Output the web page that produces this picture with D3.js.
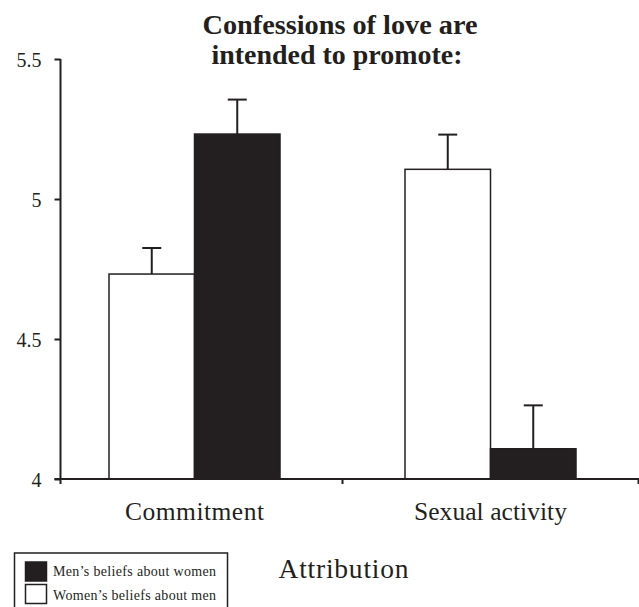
<!DOCTYPE html>
<html><head><meta charset="utf-8">
<script src="https://cdn.jsdelivr.net/npm/d3@7"></script>
<style>
body{margin:0;background:#fff;}
</style></head>
<body><svg id="chart" width="639" height="607"></svg>
<script>
const categories = ["Commitment", "Sexual activity"];
const seriesNames = ["Women\u2019s beliefs about men", "Men\u2019s beliefs about women"];
const womenValues = [4.732, 5.106];
const menValues = [5.232, 4.108];
const womenErrTop = [4.825, 5.230];
const menErrTop = [5.355, 4.263];
const yTicks = [4, 4.5, 5, 5.5];
const yTickLabels = ["4", "4.5", "5", "5.5"];
const titleLines = ["Confessions of love are", "intended to promote:"];
const xTitle = "Attribution";
const legendOrder = ["Men\u2019s beliefs about women", "Women\u2019s beliefs about men"];

const ink = "#231f20";
const FONT = "'Liberation Serif', Tinos, 'Times New Roman', 'DejaVu Serif', serif";
const svg = d3.select("#chart").attr("font-family", FONT);
const x0 = d3.scaleBand().domain(categories).range([46.5, 638.5]);
const barW = 85.5;
const x1 = d3.scaleBand().domain(seriesNames)
  .range([x0.bandwidth()/2 - barW, x0.bandwidth()/2 + barW]);
const y = d3.scaleLinear().domain([4, 5.5]).range([479, 59]);
const fills = {[seriesNames[0]]: "#fff", [seriesNames[1]]: ink};

const data = categories.map((c, i) => [
  {cat: c, s: seriesNames[0], v: womenValues[i], e: womenErrTop[i]},
  {cat: c, s: seriesNames[1], v: menValues[i], e: menErrTop[i]}
]).flat();

const eb = svg.append("g");
data.forEach(d => {
  const cx = x0(d.cat) + x1(d.s) + barW/2;
  eb.append("line").attr("x1", cx).attr("x2", cx).attr("y1", y(d.v)).attr("y2", y(d.e))
    .attr("stroke", ink).attr("stroke-width", 2);
  eb.append("line").attr("x1", cx - 9.5).attr("x2", cx + 9.5).attr("y1", y(d.e)).attr("y2", y(d.e))
    .attr("stroke", ink).attr("stroke-width", 2);
});

svg.append("g").selectAll("rect").data(data).join("rect")
  .attr("x", d => x0(d.cat) + x1(d.s))
  .attr("y", d => y(d.v))
  .attr("width", barW)
  .attr("height", d => y(4) - y(d.v))
  .attr("fill", d => fills[d.s])
  .attr("stroke", ink).attr("stroke-width", 1.5);

const yAxis = svg.append("g").attr("transform", "translate(60.5,0)")
  .call(d3.axisLeft(y).tickValues(yTicks).tickSize(6).tickPadding(13)
    .tickFormat((d, i) => yTickLabels[i]));
yAxis.attr("font-family", FONT).attr("font-size", 20);
yAxis.select(".domain").remove();
yAxis.append("line").attr("x1", 0).attr("x2", 0).attr("y1", y(5.5)).attr("y2", y(4) + 5)
  .attr("stroke", ink).attr("stroke-width", 2);
yAxis.selectAll(".tick line").attr("stroke", ink).attr("stroke-width", 2);
yAxis.selectAll(".tick text").attr("fill", ink).attr("dy", "0.35em");

const xg = svg.append("g");
xg.append("line").attr("x1", 54.5).attr("x2", 639).attr("y1", y(4)).attr("y2", y(4))
  .attr("stroke", ink).attr("stroke-width", 2);
const catLens = [139, 153];
categories.forEach((c, i) => {
  const tx = x0(c) + x0.bandwidth();
  xg.append("line").attr("x1", tx).attr("x2", tx).attr("y1", y(4)).attr("y2", y(4) + 5)
    .attr("stroke", ink).attr("stroke-width", 2);
  svg.append("text").attr("x", x0(c) + x0.bandwidth()/2 - catLens[i]/2).attr("y", 519.5)
    .attr("font-size", 25.5).attr("fill", ink)
    .attr("textLength", catLens[i]).attr("lengthAdjust", "spacing").text(c);
});

svg.append("text").attr("x", 278.5).attr("y", 577.5)
  .attr("font-size", 27.5).attr("fill", ink)
  .attr("textLength", 130).attr("lengthAdjust", "spacing").text(xTitle);

const titleX = [202.5, 211.5], titleLen = [275, 251], titleY = [33.5, 63.5];
titleLines.forEach((t, i) => {
  svg.append("text").attr("x", titleX[i]).attr("y", titleY[i])
    .attr("font-size", 28).attr("font-weight", "bold").attr("fill", ink)
    .attr("textLength", titleLen[i]).attr("lengthAdjust", "spacingAndGlyphs").text(t);
});

const lg = svg.append("g");
lg.append("rect").attr("x", 14.5).attr("y", 553).attr("width", 213).attr("height", 60)
  .attr("fill", "none").attr("stroke", ink).attr("stroke-width", 1.5);
legendOrder.forEach((name, i) => {
  lg.append("rect").attr("x", 25.5).attr("y", 562 + i * 22.5).attr("width", 21).attr("height", 19)
    .attr("fill", name === seriesNames[1] ? ink : "#fff").attr("stroke", ink).attr("stroke-width", 1.5);
  lg.append("text").attr("x", 53).attr("y", 576 + i * 23.5).attr("font-size", 14).attr("fill", ink)
    .attr("textLength", 163).attr("lengthAdjust", "spacing").text(name);
});
</script></body></html>
